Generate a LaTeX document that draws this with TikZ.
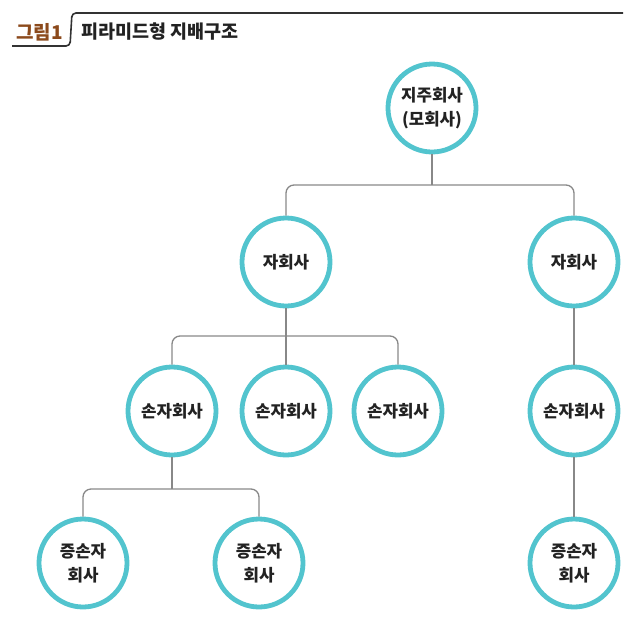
\documentclass[tikz,border=0pt]{standalone}
\usepackage{fontspec}
\setmainfont{Noto Sans CJK KR}
\definecolor{ring}{RGB}{82,196,206}
\definecolor{conn}{RGB}{136,136,136}
\definecolor{brownt}{RGB}{140,74,28}
\definecolor{txt}{RGB}{34,34,34}
\begin{document}
\begin{tikzpicture}[x=1pt,y=-1pt,
  co/.style={circle,draw=ring,line width=4.8pt,fill=white,minimum size=88pt,inner sep=0pt,
    align=center,font=\fontsize{16.8}{24}\selectfont\bfseries,text=txt},
  link/.style={draw=conn,line width=1.3pt,rounded corners=8pt}]
\useasboundingbox (0,0) rectangle (640,638);
% title
\draw[line width=1.6pt,draw=black!80,rounded corners=4pt] (12,46) -- (70,46) -- (72,13) -- (623,13);
\node[anchor=west,inner sep=0pt,text=brownt,font=\fontsize{19}{21}\selectfont\bfseries] (t1) at (16,32) {그림1};
\node[anchor=west,inner sep=0pt,text=txt,font=\fontsize{18.5}{21}\selectfont\bfseries] (t2) at (81,32) {피라미드형 지배구조};
% nodes
\node[co] (top) at (432,108) {지주회사\\(모회사)};
\node[co] (a) at (286,262) {자회사};
\node[co] (b) at (574,262) {자회사};
\node[co] (c1) at (172,411) {손자회사};
\node[co] (c2) at (286,411) {손자회사};
\node[co] (c3) at (398,411) {손자회사};
\node[co] (c4) at (574,411) {손자회사};
\node[co] (d1) at (83,563) {증손자\\회사};
\node[co] (d2) at (259,563) {증손자\\회사};
\node[co] (d3) at (574,563) {증손자\\회사};
% junction coordinates
\coordinate (h1) at (432,185);
\coordinate (h2) at (286,336);
\coordinate (h3) at (172,489);
% connectors
\path[link] (a.north) -- (a.north |- h1) -- (b.north |- h1) -- (b.north);
\path[link] (top.south) -- (h1);
\path[link] (c1.north) -- (c1.north |- h2) -- (c3.north |- h2) -- (c3.north);
\path[link] (a.south) -- (c2.north);
\path[link] (d1.north) -- (d1.north |- h3) -- (d2.north |- h3) -- (d2.north);
\path[link] (c1.south) -- (h3);
\path[link] (b.south) -- (c4.north);
\path[link] (c4.south) -- (d3.north);
\end{tikzpicture}
\end{document}
